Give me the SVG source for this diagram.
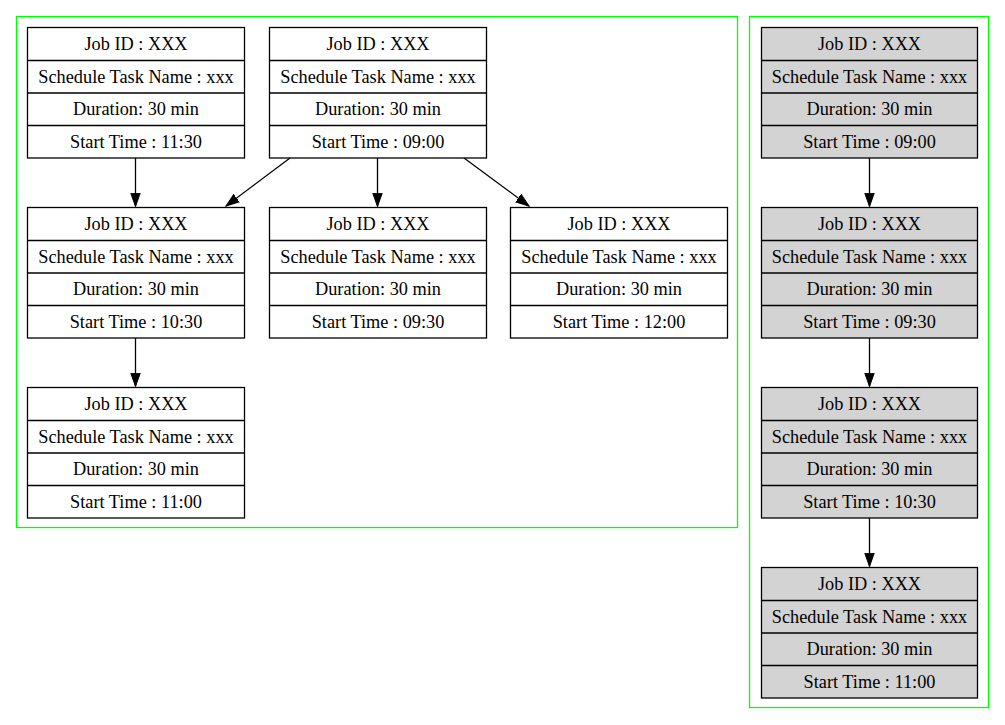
<svg xmlns="http://www.w3.org/2000/svg" width="1005" height="725" viewBox="0 0 1005 725">
<style>
.cl{fill:none;stroke:#00ff00;stroke-width:1.3}
.n rect{stroke:#000;stroke-width:1.3}
.w rect{fill:#fff}
.g rect{fill:#d3d3d3}
text{font-family:"Liberation Serif","Times New Roman",serif;font-size:18.3px;text-anchor:middle;fill:#000}
.e{stroke:#000;stroke-width:1.3;fill:none;marker-end:url(#ah)}
</style>
<defs>
<marker id="ah" markerUnits="userSpaceOnUse" markerWidth="16" markerHeight="12" refX="13.3" refY="0" viewBox="0 -6 16 12" orient="auto">
<path d="M0,-4.7 L13.3,0 L0,4.7 z" fill="#000" stroke="#000" stroke-width="1"/>
</marker>
<g id="rows" stroke="#000" stroke-width="1.3">
<line x1="0" y1="33" x2="217" y2="33"/>
<line x1="0" y1="65.5" x2="217" y2="65.5"/>
<line x1="0" y1="98" x2="217" y2="98"/>
</g>
<g id="rowsg" stroke="#000" stroke-width="1.3">
<line x1="0" y1="33" x2="216" y2="33"/>
<line x1="0" y1="65.5" x2="216" y2="65.5"/>
<line x1="0" y1="98" x2="216" y2="98"/>
</g>
</defs>
<rect width="1005" height="725" fill="#fff"/>
<rect class="cl" x="16.5" y="16.5" width="721" height="511"/>
<rect class="cl" x="749.5" y="16.5" width="239" height="691"/>

<g id="edges">
<line class="e" x1="135.5" y1="158" x2="135.5" y2="206.5"/>
<line class="e" x1="290" y1="158" x2="226" y2="206"/>
<line class="e" x1="377.5" y1="158" x2="377.5" y2="206.5"/>
<line class="e" x1="464" y1="158" x2="529" y2="206"/>
<line class="e" x1="135.5" y1="338" x2="135.5" y2="386.5"/>
<line class="e" x1="869.5" y1="158" x2="869.5" y2="206.5"/>
<line class="e" x1="869.5" y1="338" x2="869.5" y2="386.5"/>
<line class="e" x1="869.5" y1="518" x2="869.5" y2="566.5"/>
</g>

<g id="n1" class="n w" transform="translate(27.5,27.5)">
<rect width="217" height="130.5"/><use href="#rows"/>
<text x="108.5" y="22.5">Job ID : XXX</text>
<text x="108.5" y="55">Schedule Task Name : xxx</text>
<text x="108.5" y="87.5">Duration: 30 min</text>
<text x="108.5" y="120">Start Time : 11:30</text>
</g>
<g id="n2" class="n w" transform="translate(269.5,27.5)">
<rect width="217" height="130.5"/><use href="#rows"/>
<text x="108.5" y="22.5">Job ID : XXX</text>
<text x="108.5" y="55">Schedule Task Name : xxx</text>
<text x="108.5" y="87.5">Duration: 30 min</text>
<text x="108.5" y="120">Start Time : 09:00</text>
</g>
<g id="n3" class="n w" transform="translate(27.5,207.5)">
<rect width="217" height="130.5"/><use href="#rows"/>
<text x="108.5" y="22.5">Job ID : XXX</text>
<text x="108.5" y="55">Schedule Task Name : xxx</text>
<text x="108.5" y="87.5">Duration: 30 min</text>
<text x="108.5" y="120">Start Time : 10:30</text>
</g>
<g id="n4" class="n w" transform="translate(269.5,207.5)">
<rect width="217" height="130.5"/><use href="#rows"/>
<text x="108.5" y="22.5">Job ID : XXX</text>
<text x="108.5" y="55">Schedule Task Name : xxx</text>
<text x="108.5" y="87.5">Duration: 30 min</text>
<text x="108.5" y="120">Start Time : 09:30</text>
</g>
<g id="n5" class="n w" transform="translate(510.5,207.5)">
<rect width="217" height="130.5"/><use href="#rows"/>
<text x="108.5" y="22.5">Job ID : XXX</text>
<text x="108.5" y="55">Schedule Task Name : xxx</text>
<text x="108.5" y="87.5">Duration: 30 min</text>
<text x="108.5" y="120">Start Time : 12:00</text>
</g>
<g id="n6" class="n w" transform="translate(27.5,387.5)">
<rect width="217" height="130.5"/><use href="#rows"/>
<text x="108.5" y="22.5">Job ID : XXX</text>
<text x="108.5" y="55">Schedule Task Name : xxx</text>
<text x="108.5" y="87.5">Duration: 30 min</text>
<text x="108.5" y="120">Start Time : 11:00</text>
</g>

<g id="r1" class="n g" transform="translate(761.5,27.5)">
<rect width="216" height="130.5"/><use href="#rowsg"/>
<text x="108" y="22.5">Job ID : XXX</text>
<text x="108" y="55">Schedule Task Name : xxx</text>
<text x="108" y="87.5">Duration: 30 min</text>
<text x="108" y="120">Start Time : 09:00</text>
</g>
<g id="r2" class="n g" transform="translate(761.5,207.5)">
<rect width="216" height="130.5"/><use href="#rowsg"/>
<text x="108" y="22.5">Job ID : XXX</text>
<text x="108" y="55">Schedule Task Name : xxx</text>
<text x="108" y="87.5">Duration: 30 min</text>
<text x="108" y="120">Start Time : 09:30</text>
</g>
<g id="r3" class="n g" transform="translate(761.5,387.5)">
<rect width="216" height="130.5"/><use href="#rowsg"/>
<text x="108" y="22.5">Job ID : XXX</text>
<text x="108" y="55">Schedule Task Name : xxx</text>
<text x="108" y="87.5">Duration: 30 min</text>
<text x="108" y="120">Start Time : 10:30</text>
</g>
<g id="r4" class="n g" transform="translate(761.5,567.5)">
<rect width="216" height="130.5"/><use href="#rowsg"/>
<text x="108" y="22.5">Job ID : XXX</text>
<text x="108" y="55">Schedule Task Name : xxx</text>
<text x="108" y="87.5">Duration: 30 min</text>
<text x="108" y="120">Start Time : 11:00</text>
</g>
</svg>
